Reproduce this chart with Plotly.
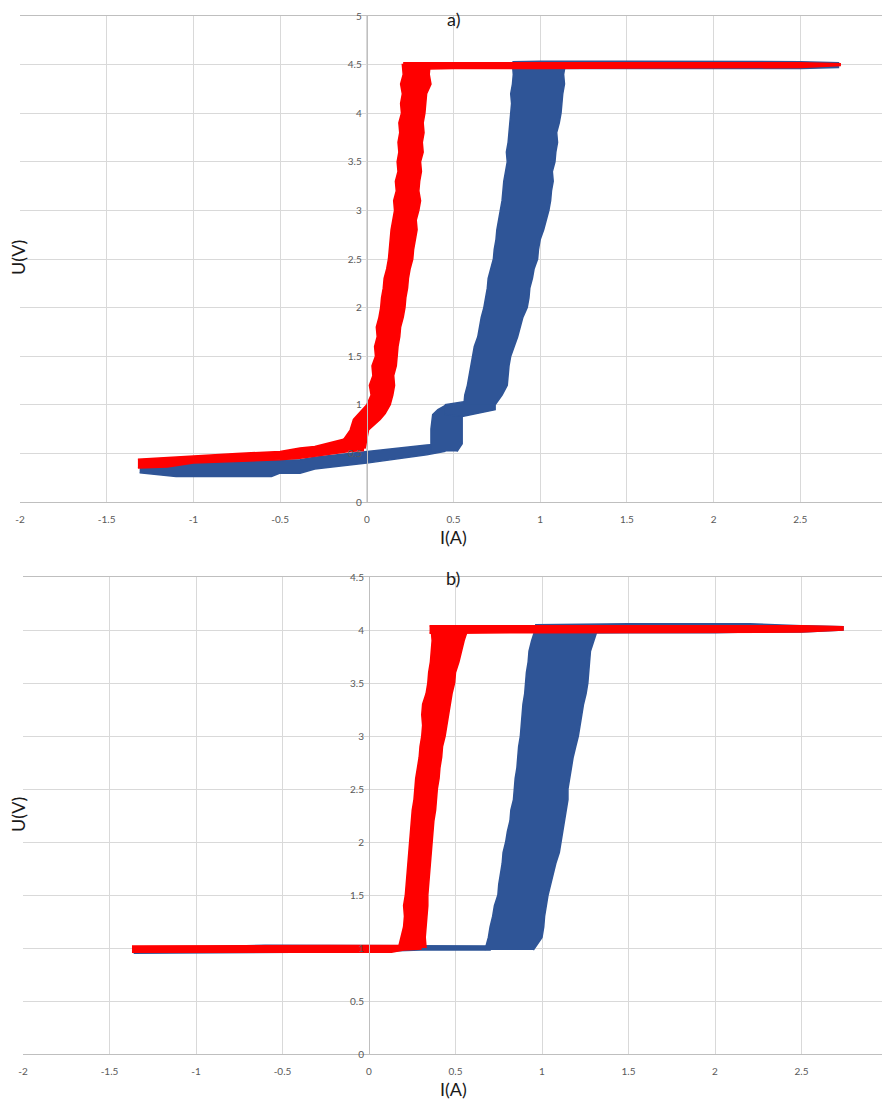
import plotly.graph_objects as go

# ---------------- panel a) ----------------
# red loop, lower branch (I vs top/bottom U)
ra_low_I = [-1.32, -1.15, -1.0, -0.75, -0.5, -0.385, -0.3, -0.19, -0.1, -0.02]
ra_low_top = [0.44, 0.46, 0.476, 0.50, 0.52, 0.555, 0.57, 0.62, 0.66, 0.68]
ra_low_bot = [0.35, 0.36, 0.40, 0.42, 0.435, 0.45, 0.47, 0.50, 0.52, 0.53]
# red rising branch (U vs left/right I)
ra_up_U = [0.55, 0.74, 0.85, 0.91,
           1.0, 1.1, 1.2, 1.3, 1.4, 1.5, 1.6, 1.7, 1.8, 1.9, 2.0, 2.1, 2.2, 2.3, 2.4, 2.5, 2.6, 2.7,
           2.8, 2.9, 3.0, 3.1, 3.2, 3.3, 3.4, 3.5, 3.6, 3.7, 3.8, 3.9, 4.0, 4.1, 4.2, 4.3, 4.4, 4.5]
ra_up_left = [-0.17, -0.096, -0.077, -0.048,
              0.00, 0.025, 0.015, 0.035, 0.03, 0.05, 0.045, 0.06, 0.055, 0.07, 0.08, 0.085, 0.095, 0.10,
              0.115, 0.125, 0.13, 0.135, 0.14, 0.15, 0.16, 0.155, 0.17, 0.165, 0.18, 0.175, 0.185, 0.18,
              0.19, 0.185, 0.20, 0.195, 0.205, 0.195, 0.21, 0.205]
ra_up_right = [-0.01, 0.01, 0.077, 0.106,
               0.135, 0.15, 0.16, 0.155, 0.17, 0.175, 0.18, 0.19, 0.195, 0.21, 0.22, 0.225, 0.235, 0.24,
               0.25, 0.265, 0.27, 0.28, 0.29, 0.285, 0.30, 0.31, 0.30, 0.305, 0.315, 0.31, 0.325, 0.32,
               0.33, 0.325, 0.335, 0.34, 0.345, 0.37, 0.36, 0.365]
# red saturation branch
ra_top_I = [0.21, 0.5, 1.0, 1.5, 2.0, 2.5, 2.73]
ra_top_top = [4.52, 4.52, 4.52, 4.52, 4.52, 4.52, 4.51]
ra_top_bot = [4.45, 4.46, 4.46, 4.465, 4.47, 4.47, 4.49]

# blue loop, lower branch
ba_low_I = [-1.31, -1.1, -0.8, -0.55, -0.5, -0.385, -0.3, 0.0, 0.2, 0.346, 0.45]
ba_low_top = [0.366, 0.394, 0.41, 0.424, 0.43, 0.434, 0.46, 0.52, 0.56, 0.587, 0.6]
ba_low_bot = [0.30, 0.263, 0.263, 0.263, 0.298, 0.297, 0.34, 0.40, 0.45, 0.485, 0.52]
# blue bump near 0.4 A
ba_bump_U = [0.52, 0.6, 0.75, 0.9, 0.95, 1.0]
ba_bump_left = [0.37, 0.37, 0.37, 0.38, 0.41, 0.46]
ba_bump_right = [0.52, 0.55, 0.55, 0.55, 0.60, 0.70]
# blue step at 1 V
ba_step_I = [0.45, 0.55, 0.65, 0.74]
ba_step_top = [1.0, 1.03, 1.05, 1.06]
ba_step_bot = [0.9, 0.88, 0.92, 0.95]
# blue rising branch
ba_up_U = [1.0, 1.1, 1.2, 1.3, 1.4, 1.5, 1.6, 1.7, 1.8, 1.9, 2.0, 2.1, 2.2, 2.3, 2.4, 2.5, 2.6, 2.7,
           2.8, 2.9, 3.0, 3.1, 3.2, 3.3, 3.4, 3.5, 3.6, 3.7, 3.8, 3.9, 4.0, 4.1, 4.2, 4.3, 4.4, 4.5]
ba_up_left = [0.56, 0.565, 0.58, 0.59, 0.60, 0.61, 0.62, 0.64, 0.65, 0.66, 0.675, 0.685, 0.695, 0.70,
              0.715, 0.73, 0.735, 0.745, 0.75, 0.76, 0.77, 0.78, 0.785, 0.79, 0.80, 0.81, 0.805, 0.815,
              0.82, 0.825, 0.83, 0.835, 0.83, 0.84, 0.845, 0.84]
ba_up_right = [0.74, 0.78, 0.81, 0.815, 0.82, 0.83, 0.85, 0.87, 0.885, 0.90, 0.925, 0.935, 0.94, 0.955,
               0.965, 0.985, 0.99, 1.0, 1.02, 1.035, 1.05, 1.06, 1.065, 1.075, 1.07, 1.085, 1.09, 1.10,
               1.095, 1.11, 1.12, 1.125, 1.13, 1.14, 1.135, 1.145]
# blue saturation branch
ba_top_I = [0.84, 1.0, 1.5, 2.0, 2.5, 2.72]
ba_top_top = [4.53, 4.535, 4.535, 4.535, 4.53, 4.52]
ba_top_bot = [4.46, 4.46, 4.46, 4.46, 4.46, 4.47]

# ---------------- panel b) ----------------
rb_low_I = [-1.37, -1.0, -0.5, 0.0, 0.13, 0.2, 0.3]
rb_low_top = [1.02, 1.02, 1.02, 1.02, 1.02, 1.025, 1.03]
rb_low_bot = [0.96, 0.96, 0.96, 0.96, 0.96, 0.98, 0.99]
rb_up_U = [1.0, 1.1, 1.2, 1.3, 1.4, 1.5, 1.6, 1.7, 1.8, 1.9, 2.0, 2.1, 2.2, 2.3, 2.4, 2.5,
           2.6, 2.7, 2.8, 2.9, 3.0, 3.1, 3.2, 3.3, 3.4, 3.5, 3.6, 3.7, 3.8, 3.9, 4.0]
rb_up_left = [0.17, 0.185, 0.20, 0.205, 0.20, 0.21, 0.215, 0.22, 0.225, 0.23, 0.235, 0.24, 0.245, 0.25,
              0.26, 0.265, 0.27, 0.28, 0.29, 0.295, 0.305, 0.31, 0.305, 0.31, 0.33, 0.34, 0.345, 0.355,
              0.36, 0.365, 0.36]
rb_up_right = [0.33, 0.325, 0.33, 0.335, 0.34, 0.34, 0.345, 0.35, 0.355, 0.36, 0.365, 0.37, 0.375, 0.385,
               0.39, 0.395, 0.405, 0.41, 0.42, 0.425, 0.44, 0.45, 0.46, 0.47, 0.48, 0.495, 0.50, 0.52,
               0.535, 0.55, 0.57]
rb_top_I = [0.35, 0.5, 1.0, 1.5, 2.0, 2.5, 2.74]
rb_top_top = [4.04, 4.04, 4.04, 4.04, 4.04, 4.04, 4.03]
rb_top_bot = [3.97, 3.97, 3.975, 3.975, 3.98, 3.98, 4.0]

bb_low_I = [-1.36, -1.0, -0.6, 0.0, 0.3, 0.5, 0.7]
bb_low_top = [1.01, 1.01, 1.025, 1.025, 1.02, 1.02, 1.02]
bb_low_bot = [0.95, 0.955, 0.96, 0.965, 0.98, 0.98, 0.98]
bb_up_U = [0.98, 1.1, 1.2, 1.3, 1.4, 1.5, 1.6, 1.7, 1.8, 1.9, 2.0, 2.1, 2.2, 2.3, 2.4, 2.5,
           2.6, 2.7, 2.8, 2.9, 3.0, 3.1, 3.2, 3.3, 3.4, 3.5, 3.6, 3.7, 3.8, 3.9, 4.0]
bb_up_left = [0.67, 0.69, 0.70, 0.715, 0.725, 0.745, 0.75, 0.76, 0.77, 0.775, 0.79, 0.80, 0.815, 0.82,
              0.835, 0.84, 0.845, 0.855, 0.86, 0.865, 0.875, 0.88, 0.885, 0.89, 0.90, 0.905, 0.91, 0.92,
              0.925, 0.94, 0.96]
bb_up_right = [0.95, 1.0, 1.01, 1.015, 1.025, 1.035, 1.05, 1.065, 1.08, 1.10, 1.11, 1.12, 1.13, 1.14,
               1.15, 1.15, 1.16, 1.17, 1.18, 1.195, 1.21, 1.22, 1.23, 1.24, 1.255, 1.265, 1.27, 1.275,
               1.28, 1.30, 1.32]
bb_top_I = [0.96, 1.2, 1.5, 2.0, 2.2, 2.5, 2.74]
bb_top_top = [4.05, 4.055, 4.06, 4.06, 4.06, 4.04, 4.03]
bb_top_bot = [3.97, 3.97, 3.975, 3.975, 3.98, 3.98, 4.0]

x_ticks = [-2, -1.5, -1, -0.5, 0, 0.5, 1, 1.5, 2, 2.5, 3]
x_tick_text = ["-2", "-1.5", "-1", "-0.5", "0", "0.5", "1", "1.5", "2", "2.5", "3"]
ya_ticks = [0, 0.5, 1, 1.5, 2, 2.5, 3, 3.5, 4, 4.5, 5]
yb_ticks = [0, 0.5, 1, 1.5, 2, 2.5, 3, 3.5, 4, 4.5]

RED = "#FF0000"
BLUE = "#2F5597"

fig = go.Figure()


def hband(I, top, bot, color, xa, ya):
    xs = list(I) + list(I)[::-1]
    ys = list(top) + list(bot)[::-1]
    fig.add_trace(go.Scatter(x=xs, y=ys, fill="toself", fillcolor=color, mode="lines",
                             line=dict(color=color, width=1.5), xaxis=xa, yaxis=ya,
                             showlegend=False, hoverinfo="skip"))


def vband(U, left, right, color, xa, ya):
    xs = list(left) + list(right)[::-1]
    ys = list(U) + list(U)[::-1]
    fig.add_trace(go.Scatter(x=xs, y=ys, fill="toself", fillcolor=color, mode="lines",
                             line=dict(color=color, width=1.5), xaxis=xa, yaxis=ya,
                             showlegend=False, hoverinfo="skip"))


# panel a (blue first, red on top)
hband(ba_low_I, ba_low_top, ba_low_bot, BLUE, "x", "y")
vband(ba_bump_U, ba_bump_left, ba_bump_right, BLUE, "x", "y")
hband(ba_step_I, ba_step_top, ba_step_bot, BLUE, "x", "y")
vband(ba_up_U, ba_up_left, ba_up_right, BLUE, "x", "y")
hband(ba_top_I, ba_top_top, ba_top_bot, BLUE, "x", "y")
hband(ra_low_I, ra_low_top, ra_low_bot, RED, "x", "y")
vband(ra_up_U, ra_up_left, ra_up_right, RED, "x", "y")
hband(ra_top_I, ra_top_top, ra_top_bot, RED, "x", "y")

# panel b
hband(bb_low_I, bb_low_top, bb_low_bot, BLUE, "x2", "y2")
vband(bb_up_U, bb_up_left, bb_up_right, BLUE, "x2", "y2")
hband(bb_top_I, bb_top_top, bb_top_bot, BLUE, "x2", "y2")
hband(rb_low_I, rb_low_top, rb_low_bot, RED, "x2", "y2")
vband(rb_up_U, rb_up_left, rb_up_right, RED, "x2", "y2")
hband(rb_top_I, rb_top_top, rb_top_bot, RED, "x2", "y2")

W, H = 890, 1101
OFF = 8  # the page body adds an 8 px margin around the figure
GRID = "#D9D9D9"
AXL = "#BFBFBF"
TICKF = dict(family="Lato, Open Sans, sans-serif", size=10, color="#595959")


def px(v):
    return (v - OFF) / W


def py(v):
    return 1 - (v - OFF) / H


xcommon = dict(range=[-2, 3], tickvals=x_ticks, ticktext=x_tick_text, showgrid=True,
               gridcolor=GRID, gridwidth=1, zeroline=False, showline=True, linecolor=AXL,
               linewidth=1, mirror=True, ticks="", tickfont=TICKF, ticklabelstandoff=8,
               automargin=False)
ycommon = dict(showgrid=True, gridcolor=GRID, zeroline=False, showline=True, linecolor=AXL,
               ticks="", tickfont=TICKF, ticklabelstandoff=3, automargin=False, anchor="free")

fig.update_layout(
    template="none",
    width=W, height=H, margin=dict(l=0, r=0, t=0, b=0, pad=0, autoexpand=False),
    paper_bgcolor="white", plot_bgcolor="white", showlegend=False,
    xaxis=dict(domain=[px(20), px(887)], anchor="y", **xcommon),
    yaxis=dict(domain=[py(502), py(16)], range=[0, 5], tickvals=ya_ticks,
               position=px(366.7), **ycommon),
    xaxis2=dict(domain=[px(23), px(888)], anchor="y2", **xcommon),
    yaxis2=dict(domain=[py(1054), py(577)], range=[0, 4.5], tickvals=yb_ticks,
                position=px(369), **ycommon),
)

TF = dict(family="Lato, Open Sans, sans-serif", size=18, color="#1a1a1a")
ann = [
    dict(text="a)", x=px(453), y=py(19)),
    dict(text="b)", x=px(453), y=py(578)),
    dict(text="I(A)", x=px(453), y=py(537)),
    dict(text="I(A)", x=px(453), y=py(1089)),
    dict(text="U(V)", x=px(18), y=py(258), textangle=-90),
    dict(text="U(V)", x=px(18), y=py(815), textangle=-90),
]
for a in ann:
    fig.add_annotation(xref="paper", yref="paper", showarrow=False, font=TF,
                       xanchor="center", yanchor="middle", **a)

fig.write_html("out.html")
